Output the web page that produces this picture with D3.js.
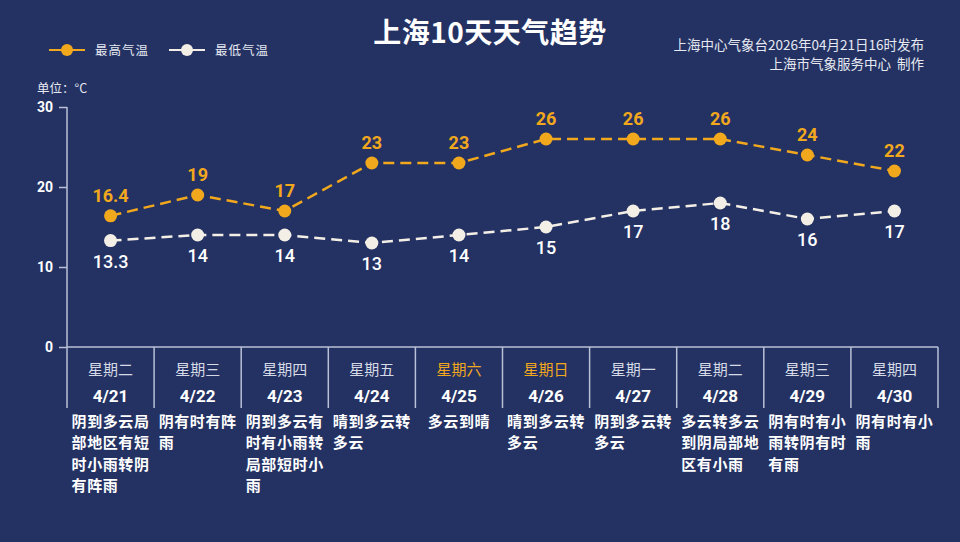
<!DOCTYPE html>
<html>
<head>
<meta charset="utf-8">
<script src="https://cdn.jsdelivr.net/npm/d3@7"></script>
<style>
  html, body { margin: 0; padding: 0; background: #243263; }
  svg { display: block; font-family: "Noto Sans CJK SC", "Noto Sans", sans-serif; }
</style>
</head>
<body>
<svg id="chart" width="960" height="542"></svg>
<script>
const dates = ["4/21", "4/22", "4/23", "4/24", "4/25", "4/26", "4/27", "4/28", "4/29", "4/30"];
const weekdays = ["星期二", "星期三", "星期四", "星期五", "星期六", "星期日", "星期一", "星期二", "星期三", "星期四"];
const highTemps = [16.4, 19, 17, 23, 23, 26, 26, 26, 24, 22];
const lowTemps = [13.3, 14, 14, 13, 14, 15, 17, 18, 16, 17];
const weather = [
  "阴到多云局部地区有短时小雨转阴有阵雨",
  "阴有时有阵雨",
  "阴到多云有时有小雨转局部短时小雨",
  "晴到多云转多云",
  "多云到晴",
  "晴到多云转多云",
  "阴到多云转多云",
  "多云转多云到阴局部地区有小雨",
  "阴有时有小雨转阴有时有雨",
  "阴有时有小雨"
];
const yTicks = [0, 10, 20, 30];

const ORANGE = "#f2a81d";
const WHITE = "#f4efe6";
const AXIS = "#b9c1d6";

const svg = d3.select("#chart");
const plotLeft = 67, plotRight = 938, plotTop = 107, plotBottom = 347;

const x = d3.scaleBand().domain(dates).range([plotLeft, plotRight]).padding(0);
const y = d3.scaleLinear().domain([0, 30]).range([plotBottom, plotTop]);
const cx = (d) => x(d) + x.bandwidth() / 2;

// title and notes
svg.append("text").attr("x", 490).attr("y", 43).attr("text-anchor", "middle")
  .attr("fill", "#ffffff").attr("font-size", 28).attr("font-weight", 700).attr("letter-spacing", 0.5)
  .text("上海10天天气趋势");
svg.append("text").attr("x", 924).attr("y", 50).attr("text-anchor", "end")
  .attr("fill", "#e6e9f2").attr("font-size", 13.5).text("上海中心气象台2026年04月21日16时发布");
svg.append("text").attr("x", 924).attr("y", 69).attr("text-anchor", "end")
  .attr("fill", "#e6e9f2").attr("font-size", 13.5).attr("xml:space", "preserve").text("上海市气象服务中心  制作");

// legend
const legend = [
  { label: "最高气温", color: ORANGE, x: 49 },
  { label: "最低气温", color: WHITE, x: 169 }
];
legend.forEach((l) => {
  const g = svg.append("g").attr("transform", `translate(${l.x},50)`);
  g.append("line").attr("x1", 0).attr("x2", 36).attr("stroke", l.color).attr("stroke-width", 2);
  g.append("circle").attr("cx", 18).attr("r", 6).attr("fill", l.color);
  g.append("text").attr("x", 46).attr("y", 4.5).attr("fill", "#e6e9f2").attr("font-size", 12.5)
    .attr("letter-spacing", 1).text(l.label);
});

svg.append("text").attr("x", 37).attr("y", 93).attr("fill", "#e6e9f2").attr("font-size", 12.5).text("单位：°C");

// y axis
svg.append("g")
  .attr("transform", `translate(${plotLeft},0)`)
  .call(d3.axisLeft(y).tickValues(yTicks).tickSize(8).tickPadding(6).tickFormat(d3.format("d")))
  .call((a) => a.select(".domain").remove())
  .call((a) => a.selectAll("line").attr("stroke", AXIS).attr("stroke-width", 1.5))
  .call((a) => a.selectAll("text").attr("fill", "#ffffff").attr("font-size", 14)
    .attr("font-weight", 700).attr("font-family", "Roboto, 'Noto Sans', sans-serif"));

svg.append("line").attr("x1", plotLeft).attr("x2", plotLeft).attr("y1", plotTop).attr("y2", 408)
  .attr("stroke", AXIS).attr("stroke-width", 1.5);
svg.append("line").attr("x1", plotLeft).attr("x2", plotRight).attr("y1", plotBottom).attr("y2", plotBottom)
  .attr("stroke", AXIS).attr("stroke-width", 1.5);

// table columns
svg.append("g").selectAll("line").data(dates).enter().append("line")
  .attr("x1", (d) => x(d) + x.bandwidth()).attr("x2", (d) => x(d) + x.bandwidth())
  .attr("y1", plotBottom).attr("y2", 408)
  .attr("stroke", AXIS).attr("stroke-width", 1.5);

svg.append("g").selectAll("text").data(dates).enter().append("text")
  .attr("x", cx).attr("y", 375).attr("text-anchor", "middle").attr("font-size", 15)
  .attr("fill", (d, i) => (weekdays[i] === "星期六" || weekdays[i] === "星期日") ? ORANGE : "#d6dae6")
  .text((d, i) => weekdays[i]);

svg.append("g").selectAll("text").data(dates).enter().append("text")
  .attr("x", cx).attr("y", 402).attr("text-anchor", "middle").attr("font-size", 17)
  .attr("font-weight", 700).attr("fill", "#ffffff")
  .attr("font-family", "Roboto, 'Noto Sans', sans-serif")
  .text((d) => d);

// weather text, 5 chars a line, block centred in column
const charW = 15.6;
dates.forEach((d, i) => {
  const chars = Array.from(weather[i]);
  const lines = [];
  for (let k = 0; k < chars.length; k += 5) lines.push(chars.slice(k, k + 5).join(""));
  const blockW = d3.max(lines, (l) => l.length) * charW;
  const x0 = cx(d) - blockW / 2;
  const t = svg.append("text").attr("fill", "#ffffff").attr("font-size", 15)
    .attr("font-weight", 700).attr("letter-spacing", 0.6);
  lines.forEach((l, j) => {
    t.append("tspan").attr("x", x0).attr("y", 427 + j * 21.3).text(l);
  });
});

// lines
const line = (vals) => d3.line().x((d, i) => cx(dates[i])).y((d) => y(d))(vals);

svg.append("path").attr("d", line(lowTemps)).attr("fill", "none")
  .attr("stroke", WHITE).attr("stroke-width", 2.5).attr("stroke-dasharray", "11 6");
svg.append("path").attr("d", line(highTemps)).attr("fill", "none")
  .attr("stroke", ORANGE).attr("stroke-width", 2.5).attr("stroke-dasharray", "11 6");

svg.append("g").selectAll("circle").data(lowTemps).enter().append("circle")
  .attr("cx", (d, i) => cx(dates[i])).attr("cy", (d) => y(d)).attr("r", 6.5).attr("fill", WHITE);
svg.append("g").selectAll("circle").data(highTemps).enter().append("circle")
  .attr("cx", (d, i) => cx(dates[i])).attr("cy", (d) => y(d)).attr("r", 6.5).attr("fill", ORANGE);

svg.append("g").selectAll("text").data(highTemps).enter().append("text")
  .attr("x", (d, i) => cx(dates[i])).attr("y", (d) => y(d) - 14)
  .attr("text-anchor", "middle").attr("font-size", 18).attr("font-weight", 700)
  .attr("fill", ORANGE).attr("font-family", "Roboto, 'Noto Sans', sans-serif")
  .text((d) => d);
svg.append("g").selectAll("text").data(lowTemps).enter().append("text")
  .attr("x", (d, i) => cx(dates[i])).attr("y", (d) => y(d) + 27)
  .attr("text-anchor", "middle").attr("font-size", 18).attr("font-weight", 500)
  .attr("fill", "#ffffff").attr("font-family", "Roboto, 'Noto Sans', sans-serif")
  .text((d) => d);
</script>
</body>
</html>
